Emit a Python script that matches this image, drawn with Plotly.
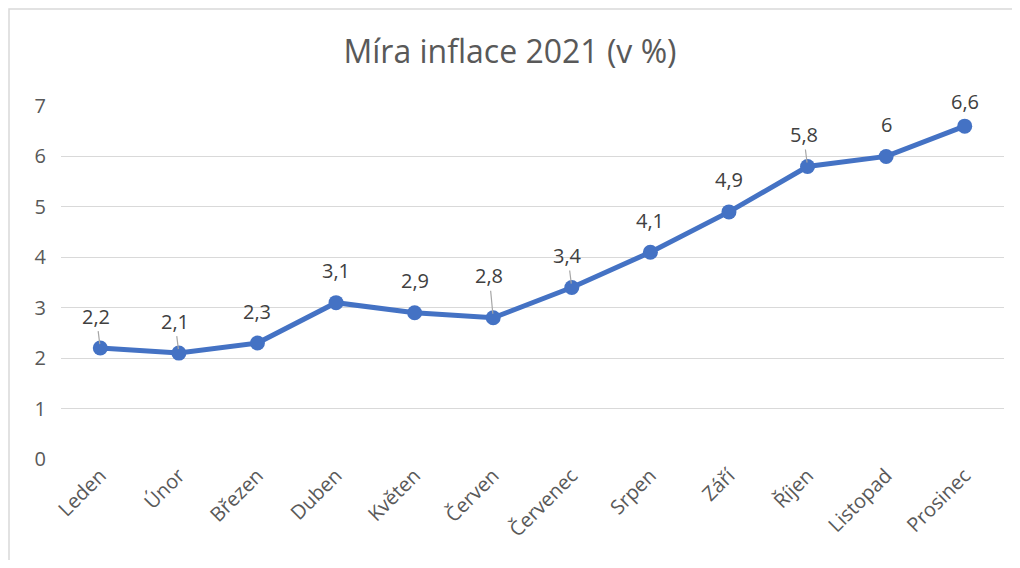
import plotly.graph_objects as go

# ==================================================
# DATA
# ==================================================
months = ["Leden", "Únor", "Březen", "Duben", "Květen", "Červen",
          "Červenec", "Srpen", "Září", "Říjen", "Listopad", "Prosinec"]
inflation = [2.2, 2.1, 2.3, 3.1, 2.9, 2.8, 3.4, 4.1, 4.9, 5.8, 6.0, 6.6]
y_ticks = [0, 1, 2, 3, 4, 5, 6, 7]

# months whose data label has a small leader line (as in Excel)
leader_months = {"Leden", "Únor", "Červen", "Červenec", "Říjen"}
# label distance above the point (px); a few labels sit higher/lower
label_shift = {"Červen": -42, "Prosinec": -25}

BLUE = "#4472C4"
GRID = "#D9D9D9"
TEXT = "#595959"
FONT = "Open Sans"

# the page body adds an 8px offset, so the figure is sized to fit the window
W, H = 1004, 552
M_L, M_R, M_T, M_B = 53, 8, 98, 101
plot_w = W - M_L - M_R
plot_h = H - M_T - M_B

fig = go.Figure()

# -------------------
# Line + markers
# -------------------
fig.add_trace(go.Scatter(
    x=months,
    y=inflation,
    mode="lines+markers",
    line=dict(color=BLUE, width=5),
    marker=dict(color=BLUE, size=15),
    cliponaxis=False,
    showlegend=False,
    hoverinfo="skip",
))

# -------------------
# Data labels
# -------------------
for m, v in zip(months, inflation):
    label = f"{v:g}".replace(".", ",")
    ay = label_shift.get(m, -32)
    has_leader = m in leader_months
    fig.add_annotation(
        x=m, y=v, xref="x", yref="y",
        text=label,
        showarrow=True,
        arrowhead=0,
        arrowwidth=1.2,
        arrowcolor="#A6A6A6" if has_leader else "rgba(0,0,0,0)",
        standoff=4,
        ax=-4 if has_leader else 0,
        ay=ay,
        font=dict(family=FONT, size=20, color="#404040"),
    )

# -------------------
# Chart border (Excel chart area)
# -------------------
fig.add_shape(
    type="rect", xref="paper", yref="paper",
    x0=-(M_L - 1) / plot_w, x1=(plot_w + M_R + 20) / plot_w,
    y0=-(M_B + 20) / plot_h, y1=1 + (M_T - 1) / plot_h,
    line=dict(color=GRID, width=1.5),
    fillcolor="rgba(0,0,0,0)",
)

# -------------------
# Layout
# -------------------
fig.update_layout(
    width=W,
    height=H,
    title=dict(
        text="Míra inflace 2021 (v %)",
        x=0.5, xanchor="center",
        y=1 - 44 / H, yanchor="middle",
        font=dict(family=FONT, size=32, color=TEXT),
    ),
    margin=dict(l=M_L, r=M_R, t=M_T, b=M_B, autoexpand=False),
    paper_bgcolor="white",
    plot_bgcolor="white",
    xaxis=dict(
        range=[-0.5, len(months) - 0.5],
        showgrid=False,
        zeroline=False,
        showline=False,
        ticks="",
        tickangle=-45,
        automargin=False,
        tickfont=dict(family=FONT, size=20, color=TEXT),
    ),
    yaxis=dict(
        range=[0, 7],
        tickvals=y_ticks,
        showgrid=True,
        gridcolor=GRID,
        gridwidth=1.3,
        zeroline=False,
        showline=False,
        ticks="",
        automargin=False,
        ticklabelstandoff=14,
        tickfont=dict(family=FONT, size=20, color=TEXT),
    ),
)

fig.write_html("out.html")
